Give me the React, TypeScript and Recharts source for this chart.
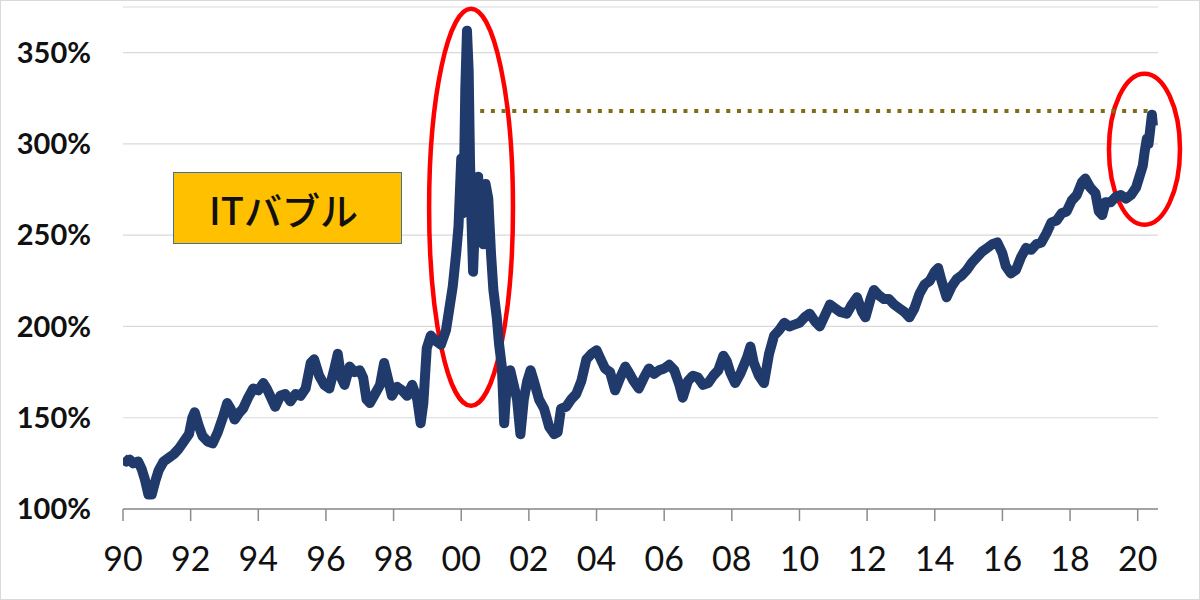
import React from 'react'
import {
  LineChart,
  Line,
  XAxis,
  YAxis,
  CartesianGrid,
  ReferenceLine,
  ReferenceArea,
} from 'recharts'

// time axis (decimal years) and ratio (%)
const YEARS = [
  1990.0, 1990.1, 1990.2, 1990.3, 1990.45, 1990.55, 1990.65, 1990.75, 1990.85, 1990.95,
  1991.05, 1991.2, 1991.35, 1991.5, 1991.65, 1991.8, 1991.95, 1992.05, 1992.12, 1992.25,
  1992.35, 1992.5, 1992.65, 1992.8, 1992.95, 1993.08, 1993.18, 1993.3, 1993.45, 1993.55,
  1993.7, 1993.85, 1994.0, 1994.15, 1994.25, 1994.4, 1994.5, 1994.65, 1994.8, 1994.95,
  1995.1, 1995.25, 1995.4, 1995.55, 1995.65, 1995.8, 1995.95, 1996.1, 1996.25, 1996.35,
  1996.45, 1996.55, 1996.7, 1996.85, 1997.0, 1997.1, 1997.2, 1997.3, 1997.45, 1997.6,
  1997.72, 1997.85, 1997.95, 1998.1, 1998.25, 1998.4, 1998.55, 1998.7, 1998.8, 1998.88,
  1998.98, 1999.1, 1999.25, 1999.4, 1999.55, 1999.65, 1999.75, 1999.85, 1999.92, 2000.0,
  2000.04, 2000.08, 2000.12, 2000.17, 2000.22, 2000.26, 2000.3, 2000.35, 2000.42, 2000.5,
  2000.54, 2000.58, 2000.65, 2000.72, 2000.8, 2000.88, 2000.95, 2001.05, 2001.12, 2001.2,
  2001.27, 2001.35, 2001.45, 2001.55, 2001.65, 2001.75, 2001.85, 2001.95, 2002.05, 2002.15,
  2002.3, 2002.45, 2002.6, 2002.75, 2002.85, 2002.95, 2003.1, 2003.25, 2003.4, 2003.55,
  2003.7, 2003.85, 2004.0, 2004.1, 2004.25, 2004.4, 2004.55, 2004.7, 2004.85, 2004.95,
  2005.1, 2005.25, 2005.4, 2005.55, 2005.7, 2005.85, 2006.0, 2006.15, 2006.3, 2006.45,
  2006.55, 2006.7, 2006.85, 2007.0, 2007.15, 2007.3, 2007.45, 2007.6, 2007.75, 2007.85,
  2007.95, 2008.1, 2008.25, 2008.45, 2008.55, 2008.65, 2008.8, 2008.95, 2009.1, 2009.25,
  2009.4, 2009.55, 2009.7, 2009.85, 2010.0, 2010.15, 2010.3, 2010.45, 2010.6, 2010.75,
  2010.9, 2011.05, 2011.2, 2011.4, 2011.55, 2011.7, 2011.85, 2011.95, 2012.1, 2012.2,
  2012.35, 2012.5, 2012.65, 2012.8, 2012.95, 2013.1, 2013.25, 2013.4, 2013.55, 2013.7,
  2013.85, 2014.0, 2014.1, 2014.2, 2014.35, 2014.5, 2014.65, 2014.8, 2014.95, 2015.1,
  2015.25, 2015.4, 2015.55, 2015.7, 2015.85, 2016.0, 2016.1, 2016.25, 2016.4, 2016.55,
  2016.7, 2016.85, 2017.0, 2017.15, 2017.3, 2017.45, 2017.6, 2017.75, 2017.9, 2018.05,
  2018.2, 2018.35, 2018.45, 2018.6, 2018.75, 2018.85, 2018.95, 2019.05, 2019.2, 2019.35,
  2019.5, 2019.65, 2019.8, 2019.95, 2020.05, 2020.15, 2020.2, 2020.27, 2020.32, 2020.37,
  2020.42, 2020.45,
]

const RATIO = [
  128, 126, 127, 125, 126, 122, 116, 108, 108, 115,
  121, 126, 128, 130, 133, 137, 141, 150, 153, 145,
  140, 137, 136, 142, 150, 158, 155, 149, 153, 155,
  161, 166, 165, 169, 166, 160, 156, 162, 163, 159,
  163, 162, 166, 180, 182, 173, 168, 166, 177, 185,
  172, 168, 178, 175, 176, 172, 160, 158, 163, 168,
  180, 170, 162, 167, 165, 162, 168, 160, 147, 158,
  188, 195, 192, 190, 198, 210, 222, 240, 255, 292,
  262, 280, 330, 362, 340, 290, 260, 230, 265, 282,
  258, 270, 245, 278, 270, 240, 220, 205, 190, 178,
  147, 170, 176, 168, 160, 141, 160, 170, 176, 170,
  160, 155, 145, 141, 142, 155, 156, 160, 163, 170,
  182, 185, 187, 183, 177, 175, 165, 172, 178, 175,
  170, 166, 172, 177, 174, 176, 177, 179, 176, 168,
  161, 170, 173, 172, 168, 169, 173, 176, 184, 181,
  175, 169, 174, 183, 189, 180, 173, 169, 185, 195,
  198, 202, 200, 201, 202, 205, 207, 203, 200, 206,
  212, 210, 208, 207, 212, 216, 208, 205, 215, 220,
  217, 215, 215, 212, 210, 208, 205, 210, 218, 223,
  225, 230, 232, 225, 216, 222, 226, 228, 231, 235,
  238, 241, 243, 245, 246, 240, 233, 229, 231, 238,
  243, 242, 245, 246, 251, 257, 258, 262, 263, 269,
  272, 279, 281, 276, 273, 263, 261, 268, 268, 271,
  272, 270, 272, 276, 282, 288, 295, 303, 300, 308,
  316, 310,
]

const X_TICKS = [1990, 1992, 1994, 1996, 1998, 2000, 2002, 2004, 2006, 2008, 2010, 2012, 2014, 2016, 2018, 2020]
const Y_TICKS = [100, 150, 200, 250, 300, 350]

// level reached again in 2020, and the two circled periods
const PEAK_LEVEL = 318
const PEAK_LINE_FROM = 2000.56
const PEAK_LINE_TO = 2020.37
const BUBBLE_BOX = { x1: 1999.05, x2: 2001.53, y1: 156.5, y2: 374 }
const RECENT_BOX = { x1: 2019.15, x2: 2021.25, y1: 255.7, y2: 338.5 }

const data = YEARS.map((year, i) => ({ year, ratio: RATIO[i] }))

const Ellipse = (props: any) => {
  const { x, y, width, height } = props
  return (
    <ellipse
      cx={x + width / 2}
      cy={y + height / 2}
      rx={Math.abs(width) / 2}
      ry={Math.abs(height) / 2}
      fill="none"
      stroke="#ff0000"
      strokeWidth={4.5}
    />
  )
}

export default function App() {
  return (
    <div
      style={{
        position: 'absolute',
        left: 0,
        top: 0,
        width: 1200,
        height: 600,
        background: '#fff',
        border: '1px solid #d9d9d9',
        boxSizing: 'border-box',
        fontFamily: 'Lato, sans-serif',
      }}
    >
      <LineChart
        width={1200}
        height={600}
        data={data}
        margin={{ top: 7, right: 42, left: 0, bottom: 61 }}
        style={{ position: 'absolute', left: -1, top: -1 }}
      >
        <CartesianGrid vertical={false} stroke="#d9d9d9" strokeWidth={1.2} />
        <XAxis
          dataKey="year"
          type="number"
          domain={[1990, 2020.6]}
          ticks={X_TICKS}
          tickFormatter={(v: number) => String(v % 100).padStart(2, '0')}
          axisLine={{ stroke: '#8c8c8c', strokeWidth: 1.5 }}
          tickLine={{ stroke: '#8c8c8c', strokeWidth: 1.5 }}
          height={30}
          tickSize={12}
          tickMargin={26}
          tick={{ fontSize: 34, fill: '#111', fontFamily: 'Lato' }}
          allowDataOverflow
        />
        <YAxis
          type="number"
          domain={[100, 375]}
          ticks={Y_TICKS}
          tickFormatter={(v: number) => `${v}%`}
          axisLine={false}
          tickLine={false}
          width={123}
          tickMargin={26}
          tick={{ fontSize: 29, fill: '#111', fontFamily: 'Lato', fontWeight: 700 }}
          allowDataOverflow
        />
        <ReferenceLine
          segment={[
            { x: PEAK_LINE_FROM, y: PEAK_LEVEL },
            { x: PEAK_LINE_TO, y: PEAK_LEVEL },
          ]}
          stroke="#806c14"
          strokeWidth={4}
          strokeDasharray="4 6.7"
        />
        <Line
          type="linear"
          dataKey="ratio"
          stroke="#1f3a6b"
          strokeWidth={10}
          strokeLinejoin="round"
          dot={false}
          isAnimationActive={false}
        />
        <ReferenceArea
          x1={BUBBLE_BOX.x1}
          x2={BUBBLE_BOX.x2}
          y1={BUBBLE_BOX.y1}
          y2={BUBBLE_BOX.y2}
          ifOverflow="visible"
          shape={Ellipse}
        />
        <ReferenceArea
          x1={RECENT_BOX.x1}
          x2={RECENT_BOX.x2}
          y1={RECENT_BOX.y1}
          y2={RECENT_BOX.y2}
          ifOverflow="visible"
          shape={Ellipse}
        />
      </LineChart>

      {/* label box */}
      <div
        style={{
          position: 'absolute',
          left: 172,
          top: 171,
          width: 229,
          height: 72,
          boxSizing: 'border-box',
          background: '#ffc000',
          border: '1.5px solid #41719c',
          display: 'flex',
          alignItems: 'center',
          justifyContent: 'center',
          fontFamily: '"Noto Sans CJK JP", sans-serif',
          fontSize: 38,
          fontWeight: 500,
          color: '#111',
          paddingRight: 8,
        }}
      >
        ITバブル
      </div>
    </div>
  )
}
